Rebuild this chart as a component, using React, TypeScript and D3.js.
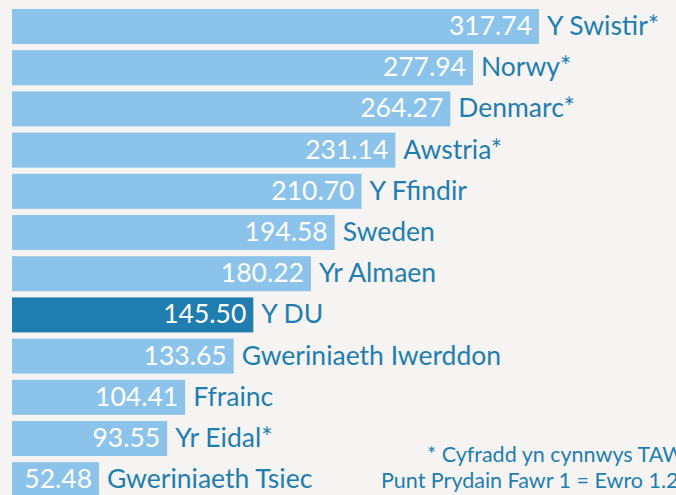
import React from 'react';
import * as d3 from 'd3';

const countries = [
  'Y Swistir*', 'Norwy*', 'Denmarc*', 'Awstria*', 'Y Ffindir', 'Sweden',
  'Yr Almaen', 'Y DU', 'Gweriniaeth Iwerddon', 'Ffrainc', 'Yr Eidal*', 'Gweriniaeth Tsiec',
];
const values = [317.74, 277.94, 264.27, 231.14, 210.7, 194.58, 180.22, 145.5, 133.65, 104.41, 93.55, 52.48];
const highlight = 'Y DU';
const notes = ['* Cyfradd yn cynnwys TAW', 'Punt Prydain Fawr 1 = Ewro 1.2'];

const W = 676;
const H = 495;
const FONT = 'Lato, "Open Sans", sans-serif';
const TEXT_COLOR = '#1f7db0';

const App = () => {
  const x = d3.scaleLinear().domain([0, 317.74]).range([12, 539]);
  const y = d3.scaleBand<string>()
    .domain(countries)
    .range([9, 497.2])
    .paddingInner(0.15)
    .paddingOuter(0);

  return (
    <svg width={W} height={H} style={{ position: 'absolute', left: 0, top: 0, display: 'block' }}>
      <rect width={W} height={H} fill="#f5f4f2" />
      {countries.map((c, i) => {
        const y0 = y(c)!;
        const cy = y0 + y.bandwidth() / 2 - 1.5;
        const x1 = x(values[i]);
        return (
          <g key={c}>
            <rect
              x={x(0)}
              y={y0}
              width={x1 - x(0)}
              height={y.bandwidth()}
              fill={c === highlight ? '#1f7db0' : '#8bc3ea'}
            />
            <text x={x1 - 7} y={cy} textAnchor="end" dominantBaseline="central"
              fill="#ffffff" fontFamily={FONT} fontSize={26.5}>
              {values[i].toFixed(2)}
            </text>
            <text x={x1 + 8} y={cy} dominantBaseline="central"
              fill={TEXT_COLOR} fontFamily={FONT} fontSize={26.5}>
              {c}
            </text>
          </g>
        );
      })}
      <text x={427} y={462} fill={TEXT_COLOR} fontFamily={FONT} fontSize={21.5}>{notes[0]}</text>
      <text x={381} y={488} fill={TEXT_COLOR} fontFamily={FONT} fontSize={21.5}>{notes[1]}</text>
    </svg>
  );
};

export default App;
